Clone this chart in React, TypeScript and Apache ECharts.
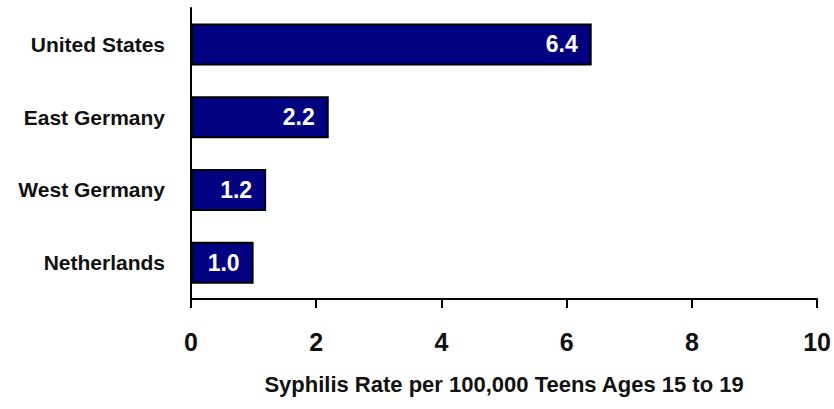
import React, { useEffect, useRef } from "react";
import * as echarts from "echarts";

// Teen syphilis rates by country
const countries = ["United States", "East Germany", "West Germany", "Netherlands"];
const rates = [6.4, 2.2, 1.2, 1.0];
const xTicks = [0, 2, 4, 6, 8, 10];

const FONT = '"Liberation Sans", Arial, sans-serif';

export default function App() {
  const ref = useRef<HTMLDivElement>(null);

  useEffect(() => {
    if (!ref.current) return;
    const chart = echarts.init(ref.current, undefined, { renderer: "svg" });
    chart.setOption({
      animation: false,
      backgroundColor: "#ffffff",
      grid: { left: 191, right: 14, top: 8, bottom: 110 },
      xAxis: {
        type: "value",
        min: xTicks[0],
        max: xTicks[xTicks.length - 1],
        interval: 2,
        name: "Syphilis Rate per 100,000 Teens Ages 15 to 19",
        nameLocation: "middle",
        nameGap: 74,
        nameTextStyle: {
          fontFamily: FONT,
          fontWeight: "bold",
          fontSize: 22,
          color: "#111",
          verticalAlign: "top",
        },
        axisLine: { show: true, lineStyle: { color: "#000", width: 2 } },
        axisTick: { show: true, length: 9, lineStyle: { color: "#000", width: 2 } },
        splitLine: { show: false },
        axisLabel: {
          fontFamily: FONT,
          fontWeight: "bold",
          fontSize: 25,
          color: "#111",
          margin: 30,
        },
      },
      yAxis: {
        type: "category",
        data: countries,
        inverse: true,
        axisLine: { show: true, lineStyle: { color: "#000", width: 2 } },
        axisTick: { show: false },
        axisLabel: {
          fontFamily: FONT,
          fontWeight: "bold",
          fontSize: 21,
          color: "#111",
          margin: 26,
        },
      },
      series: [
        {
          type: "bar",
          data: rates,
          barWidth: 42,
          itemStyle: { color: "#000080", borderColor: "#000", borderWidth: 2 },
          label: {
            show: true,
            position: "insideRight",
            distance: 14,
            formatter: (p: any) => p.value.toFixed(1),
            color: "#fff",
            fontFamily: FONT,
            fontWeight: "bold",
            fontSize: 23,
          },
        },
      ],
    });
    return () => chart.dispose();
  }, []);

  return (
    <div
      ref={ref}
      style={{ position: "fixed", left: 0, top: 0, width: 834, height: 409, background: "#fff" }}
    />
  );
}
